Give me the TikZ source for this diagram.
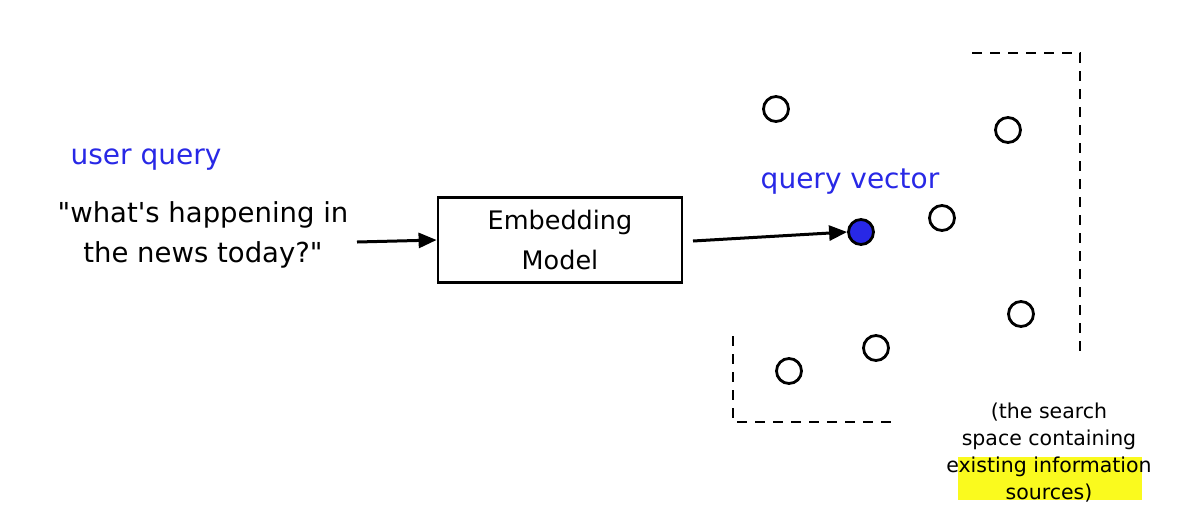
\documentclass[tikz,border=0pt]{standalone}
\usepackage{fontspec}
\setmainfont{DejaVu Sans}[Ligatures=TeXOff]
\usetikzlibrary{arrows.meta}
\definecolor{qblue}{RGB}{40,40,230}
\definecolor{hl}{RGB}{250,250,30}
\tikzset{
  txt/.style={font=\fontsize{27.5}{40}\selectfont, align=center, inner sep=0pt},
  boxtxt/.style={font=\fontsize{25.5}{40}\selectfont, align=center, inner sep=0pt},
  bluetxt/.style={font=\fontsize{28}{30}\selectfont, text=qblue, inner sep=0pt},
  captxt/.style={font=\fontsize{20.5}{27}\selectfont, align=center, inner sep=0pt},
  pt/.style={circle, draw=black, line width=2.8pt, minimum size=25pt, inner sep=0pt},
  conn/.style={line width=3pt, -{Triangle[length=18pt,width=15pt]}},
  dsh/.style={line width=2.6pt, dash pattern=on 10pt off 8pt},
}
\begin{document}
\begin{tikzpicture}[x=1pt,y=-1pt]
\useasboundingbox (0,0) rectangle (1193,515);
\node[bluetxt] (uq) at (146,160) {user query};
\node[txt] (q) at (203,235) {"what's happening in\\the news today?"};
\node[draw, line width=2.8pt, minimum width=244pt, minimum height=85pt, boxtxt] (em) at (560,240) {Embedding\\Model};
\node[pt, fill=qblue] (qv) at (861,232) {};
\node[bluetxt] (qvl) at (850,182) {query vector};
\node[pt] (c1) at (776,109) {};
\node[pt] (c2) at (1008,130) {};
\node[pt] (c3) at (942,218) {};
\node[pt] (c4) at (1021,314) {};
\node[pt] (c5) at (876,348) {};
\node[pt] (c6) at (789,371) {};
\coordinate (qa) at (357,242);
\draw[conn] (qa) -- (em.west);
\coordinate (ea) at (693,241);
\draw[conn] (ea) -- (qv.west);
\coordinate (d1) at (972,53);
\coordinate (d2) at (1080,53);
\coordinate (d3) at (1080,358);
\draw[dsh] (d1) -- (d2) -- (d3);
\coordinate (e1) at (733,336);
\coordinate (e2) at (733,422);
\coordinate (e3) at (898,422);
\draw[dsh] (e1) -- (e2) -- (e3);
\fill[hl] (958,457) rectangle (1142,500);
\node[captxt] (cap) at (1049,453) {(the search\\space containing\\existing information\\sources)};
\end{tikzpicture}
\end{document}
